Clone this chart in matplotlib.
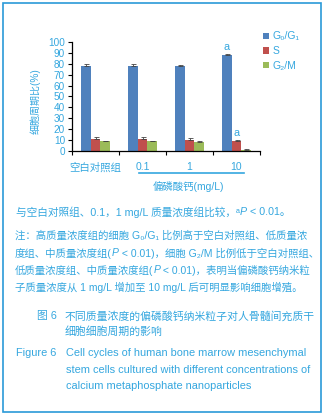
import matplotlib
matplotlib.use("Agg")
import matplotlib.pyplot as plt
from matplotlib.patches import Patch, Rectangle
import numpy as np

plt.rcParams['font.family'] = ['Liberation Sans', 'Noto Sans CJK SC', 'DejaVu Sans']

# data
groups = ["空白对照组", "0.1", "1", "10"]
g0g1 = [78, 78, 78, 88]
g0g1_err = [2, 1.8, 0.5, 1]
s_phase = [11, 11, 10.5, 9.5]
s_err = [1.5, 1.5, 1, 0.8]
g2m = [9, 9, 8.5, 1]
g2m_err = [0.5, 0.5, 0.5, 0.4]
series_names = ["G₀/G₁", "S", "G₂/M"]

blue_txt = "#35a7df"
colors = ["#4f81bd", "#c0504d", "#9bbb59"]

fig = plt.figure(figsize=(3.24, 4.15), dpi=100)
ax = fig.add_axes([72 / 324, 1 - 151 / 415, 188 / 324, 109 / 415])

x = np.arange(len(groups))
w = 0.21
series = [(g0g1, g0g1_err), (s_phase, s_err), (g2m, g2m_err)]
for i, (vals, err) in enumerate(series):
    pos = x + (i - 1) * w
    ax.bar(pos, vals, width=w, color=colors[i], zorder=2)
    ax.errorbar(pos, vals, yerr=[np.zeros(len(err)), err], fmt="none",
                ecolor="#444444", elinewidth=0.6, capsize=1.8, capthick=0.6, zorder=3)

# significance marks
ax.text(x[3] - w, g0g1[3] + g0g1_err[3] + 1.5, "a", color=blue_txt, fontsize=7.8,
        ha="center", va="bottom")
ax.text(x[3], s_phase[3] + s_err[3] + 1.5, "a", color=blue_txt, fontsize=7.8,
        ha="center", va="bottom")

ax.set_ylim(0, 100)
ax.set_xlim(-0.5, 3.5)
ax.set_yticks(range(0, 101, 10))
ax.set_xticks([-0.5, 0.5, 1.5, 2.5, 3.5])
ax.set_xticklabels([])
ax.set_xticks(x, minor=True)
ax.set_xticklabels(groups, minor=True)
ax.tick_params(axis="x", which="minor", length=0, pad=8, labelsize=7.5, labelcolor=blue_txt)
ax.tick_params(axis="x", which="major", length=3, width=0.8)
ax.tick_params(axis="y", length=3, width=0.8, pad=2, labelsize=7.2, labelcolor=blue_txt)
for side in ["top", "right"]:
    ax.spines[side].set_visible(False)
for side in ["left", "bottom"]:
    ax.spines[side].set_linewidth(0.9)

ax.set_ylabel("细胞周期比(%)", color=blue_txt, fontsize=7.2)
ax.yaxis.set_label_coords(-0.165, 0.46)

# group bracket and x title
trans = ax.get_xaxis_transform()
ax.plot([0.93, 3.16], [-0.2, -0.2], color=blue_txt, lw=1.2, transform=trans, clip_on=False)
ax.text(1.97, -0.33, "偏磷酸钙(mg/L)", color=blue_txt, fontsize=7.5,
        ha="center", va="center", transform=trans)

handles = [Patch(facecolor=c) for c in colors]
fig.legend(handles, series_names, loc="upper left", bbox_to_anchor=(254 / 324, 1 - 22 / 415),
           frameon=False, fontsize=7.5, handlelength=0.55, handleheight=0.55,
           handletextpad=0.3, labelspacing=0.45, labelcolor=blue_txt)

# text block under the chart, drawn as runs so the P can be italic
tx = fig.add_axes([0, 0, 1, 1])
tx.set_axis_off()
tx.set_xlim(0, 324)
tx.set_ylim(415, 0)

fs = 7.5
def line(xp, yp, runs, size=fs):
    if isinstance(runs, str):
        runs = [runs]
    prev = None
    for r in runs:
        style = "normal"
        if r == "P":
            style = "italic"
        if prev is None:
            prev = tx.text(xp, yp, r, color=blue_txt, fontsize=size, va="center", ha="left",
                           fontstyle=style)
        else:
            prev = tx.annotate(r, xy=(1, 0.5), xycoords=prev, va="center", ha="left",
                               color=blue_txt, fontsize=size, fontstyle=style)

line(16, 212, ["与空白对照组、0.1，1 mg/L 质量浓度组比较，ᵃ", "P", " < 0.01。"], size=7.7)
notes = [
    ["注：高质量浓度组的细胞 G₀/G₁ 比例高于空白对照组、低质量浓"],
    ["度组、中质量浓度组(", "P", " < 0.01)，细胞 G₂/M 比例低于空白对照组、"],
    ["低质量浓度组、中质量浓度组(", "P", " < 0.01)，表明当偏磷酸钙纳米粒"],
    ["子质量浓度从 1 mg/L 增加至 10 mg/L 后可明显影响细胞增殖。"],
]
for k, s in enumerate(notes):
    line(15, 236 + k * 17, s)

line(37, 316, "图 6", size=7.8)
line(65, 316, "不同质量浓度的偏磷酸钙纳米粒子对人骨髓间充质干", size=7.8)
line(65, 332, "细胞细胞周期的影响", size=7.8)
line(16, 353, "Figure 6", size=7.9)
eng = ["Cell cycles of human bone marrow mesenchymal",
       "stem cells cultured with different concentrations of",
       "calcium metaphosphate nanoparticles"]
for k, s in enumerate(eng):
    line(66, 353 + k * 16.5, s, size=7.9)

# frame around the figure
fig.patches.append(Rectangle((3 / 324, 3 / 415), 318 / 324, 409 / 415, transform=fig.transFigure,
                             fill=False, edgecolor="#2a9ad8", lw=1.2))

fig.savefig("out.png", dpi=100)
